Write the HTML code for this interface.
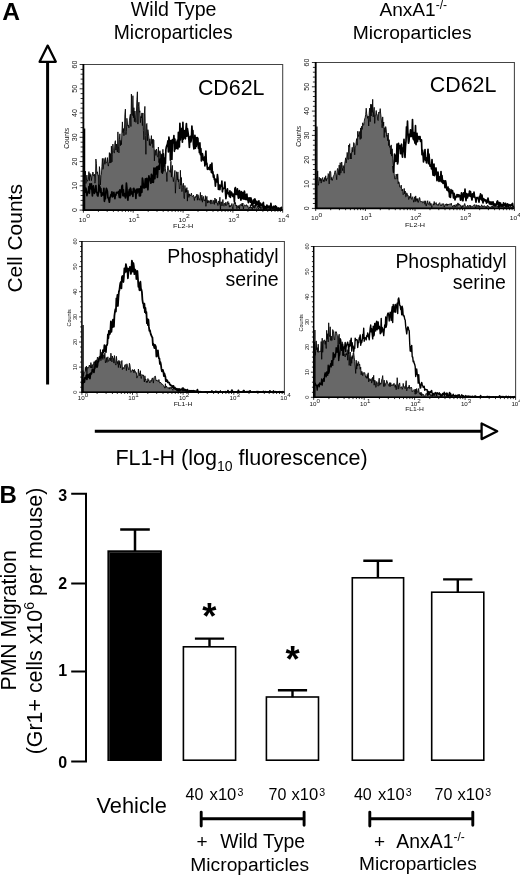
<!DOCTYPE html><html><head><meta charset="utf-8"><style>html,body{margin:0;padding:0;background:#fff;}svg{display:block;will-change:transform;}text{font-family:"Liberation Sans", sans-serif;}</style></head><body>
<svg width="520" height="876" viewBox="0 0 520 876">
<rect width="520" height="876" fill="#fff"/>
<text x="2.2" y="19.7" font-size="24.6" font-weight="bold">A</text>
<text x="130.8" y="16" font-size="19.6">Wild Type</text>
<text x="113.8" y="38.6" font-size="19.3">Microparticles</text>
<text x="379.4" y="16.2" font-size="19.1">AnxA1<tspan dy="-7" font-size="12">-/-</tspan></text>
<text x="352.8" y="38.8" font-size="19.25">Microparticles</text>
<path d="M47.6,384.6V62" stroke="#000" stroke-width="3"/>
<path d="M47.7,45.6L39.6,61.8H55.8Z" fill="#fff" stroke="#000" stroke-width="2.3" stroke-linejoin="round"/>
<text transform="translate(22.0,292.6) rotate(-90)" font-size="21">Cell Counts</text>
<path d="M94.8,431.3H481" stroke="#000" stroke-width="3"/>
<path d="M497.2,431.3L481.6,423.5V439.1Z" fill="#fff" stroke="#000" stroke-width="2.3" stroke-linejoin="round"/>
<text x="115.4" y="465.3" font-size="21.5">FL1-H (log<tspan dy="5.5" font-size="14">10</tspan><tspan dy="-5.5"> fluorescence)</tspan></text>
<path d="M83.4,64.5H282.7V210.1" fill="none" stroke="#444" stroke-width="1.05"/>
<path d="M83.9,210.1L83.9,180.7L84.4,183.3L84.9,180.4L85.4,171.1L85.9,183.5L86.4,180.8L86.9,175.1L87.4,181.3L87.9,180.0L88.4,179.5L88.9,171.6L89.4,180.7L89.9,173.3L90.4,176.4L90.9,174.5L91.4,180.6L91.9,176.4L92.4,175.1L92.9,172.0L93.4,174.8L93.9,176.1L94.4,174.2L94.9,183.2L95.4,181.2L95.9,159.0L96.4,163.6L96.9,173.5L97.4,171.8L97.9,175.3L98.4,175.1L98.9,186.4L99.4,166.6L99.9,170.8L100.4,184.9L100.9,175.5L101.4,174.8L101.9,166.6L102.4,158.4L102.9,169.3L103.4,168.0L103.9,158.4L104.4,161.1L104.9,164.3L105.4,157.6L105.9,162.5L106.4,163.1L106.9,162.0L107.4,157.6L107.9,164.6L108.4,166.1L108.9,161.4L109.4,152.6L109.9,163.1L110.4,153.5L110.9,162.9L111.4,146.1L111.9,161.9L112.4,154.2L112.9,144.1L113.4,150.3L113.9,152.2L114.4,153.1L114.9,142.6L115.4,140.7L115.9,150.1L116.4,144.0L116.9,148.7L117.4,152.1L117.9,131.9L118.4,146.1L118.9,152.9L119.4,139.3L119.9,133.8L120.4,145.7L120.9,140.4L121.4,144.7L121.9,132.9L122.4,121.9L122.9,132.6L123.4,128.5L123.9,135.7L124.4,131.8L124.9,114.2L125.4,109.1L125.9,134.6L126.4,131.7L126.9,118.3L127.4,123.1L127.9,126.1L128.4,125.2L128.9,127.9L129.4,120.9L129.9,116.3L130.4,114.2L130.9,126.5L131.4,94.1L131.9,114.2L132.4,115.5L132.9,95.7L133.4,117.7L133.9,107.7L134.4,121.7L134.9,111.0L135.4,117.9L135.9,122.4L136.4,113.0L136.9,99.4L137.4,91.8L137.9,124.1L138.4,106.3L138.9,102.2L139.4,112.3L139.9,110.8L140.4,122.7L140.9,116.5L141.4,118.0L141.9,112.9L142.4,125.6L142.9,113.0L143.4,130.4L143.9,139.7L144.4,113.3L144.9,106.4L145.4,135.7L145.9,154.3L146.4,124.3L146.9,123.5L147.4,140.7L147.9,129.7L148.4,134.0L148.9,136.6L149.4,145.3L149.9,138.8L150.4,145.7L150.9,143.3L151.4,135.6L151.9,143.6L152.4,139.3L152.9,147.6L153.4,139.4L153.9,140.3L154.4,160.9L154.9,149.8L155.4,150.5L155.9,155.4L156.4,149.0L156.9,151.1L157.4,156.9L157.9,156.8L158.4,147.0L158.9,162.6L159.4,153.1L159.9,150.7L160.4,152.8L160.9,157.4L161.4,172.5L161.9,153.8L162.4,164.0L162.9,149.3L163.4,164.5L163.9,171.2L164.4,164.2L164.9,162.2L165.4,168.5L165.9,172.2L166.4,172.5L166.9,181.5L167.4,170.6L167.9,165.8L168.4,169.1L168.9,169.8L169.4,171.3L169.9,170.7L170.4,172.4L170.9,161.2L171.4,177.1L171.9,168.7L172.4,165.4L172.9,176.8L173.4,181.6L173.9,177.3L174.4,176.1L174.9,170.4L175.4,193.2L175.9,182.4L176.4,171.7L176.9,174.5L177.4,180.1L177.9,171.9L178.4,182.0L178.9,179.4L179.4,189.0L179.9,188.3L180.4,170.3L180.9,185.1L181.4,177.5L181.9,191.6L182.4,187.7L182.9,184.8L183.4,183.2L183.9,197.3L184.4,198.7L184.9,185.5L185.4,192.5L185.9,188.6L186.4,192.1L186.9,187.6L187.4,201.1L187.9,190.3L188.4,193.7L188.9,197.4L189.4,193.8L189.9,196.0L190.4,195.0L190.9,195.4L191.4,193.1L191.9,195.8L192.4,196.7L192.9,196.4L193.4,195.1L193.9,196.8L194.4,200.5L194.9,196.9L195.4,197.6L195.9,195.9L196.4,196.5L196.9,194.1L197.4,200.2L197.9,194.7L198.4,196.2L198.9,200.0L199.4,200.2L199.9,197.6L200.4,192.4L200.9,200.7L201.4,200.3L201.9,195.0L202.4,202.2L202.9,197.6L203.4,196.4L203.9,200.5L204.4,199.8L204.9,201.1L205.4,195.7L205.9,206.3L206.4,199.1L206.9,196.4L207.4,203.1L207.9,200.3L208.4,202.5L208.9,200.7L209.4,201.6L209.9,202.7L210.4,199.9L210.9,204.1L211.4,200.9L211.9,199.9L212.4,202.6L212.9,203.7L213.4,201.9L213.9,200.2L214.4,204.4L214.9,198.0L215.4,200.0L215.9,203.0L216.4,199.3L216.9,203.1L217.4,203.0L217.9,205.5L218.4,200.9L218.9,201.7L219.4,204.3L219.9,197.2L220.4,210.1L220.9,201.9L221.4,201.9L221.9,205.9L222.4,203.8L222.9,199.5L223.4,205.6L223.9,206.2L224.4,203.1L224.9,203.6L225.4,205.5L225.9,202.2L226.4,205.5L226.9,205.0L227.4,203.0L227.9,201.4L228.4,204.2L228.9,202.8L229.4,207.2L229.9,205.3L230.4,206.8L230.9,205.4L231.4,205.7L231.9,203.5L232.4,206.7L232.9,209.2L233.4,204.7L233.9,204.1L234.4,202.3L234.9,203.8L235.4,202.4L235.9,205.9L236.4,205.0L236.9,208.7L237.4,205.7L237.9,206.5L238.4,207.8L238.9,205.3L239.4,208.9L239.9,204.7L240.4,204.4L240.9,205.4L241.4,205.9L241.9,203.4L242.4,206.2L242.9,203.0L243.4,209.0L243.9,206.2L244.4,205.2L244.9,204.8L245.4,205.8L245.9,206.2L246.4,204.7L246.9,205.0L247.4,206.4L247.9,205.8L248.4,208.5L248.9,208.9L249.4,207.0L249.9,207.8L250.4,204.7L250.9,208.2L251.4,207.0L251.9,208.0L252.4,209.9L252.9,203.3L253.4,207.6L253.9,205.4L254.4,208.3L254.9,205.1L255.4,206.5L255.9,207.7L256.4,208.4L256.9,207.5L257.4,206.2L257.9,206.6L258.4,208.9L258.9,207.5L259.4,204.9L259.9,208.1L260.4,206.7L260.9,209.0L261.4,207.2L261.9,207.4L262.4,206.1L262.9,208.6L263.4,207.1L263.9,208.9L264.4,209.4L264.9,206.8L265.4,207.9L265.9,208.0L266.4,209.7L266.9,209.0L267.4,206.3L267.9,208.7L268.4,209.2L268.9,209.7L269.4,205.8L269.9,207.5L270.4,210.1L270.9,206.4L271.4,206.7L271.9,209.0L272.4,208.2L272.9,207.5L273.4,209.1L273.9,208.6L274.4,210.1L274.9,208.5L275.4,209.8L275.9,207.5L276.4,208.4L276.9,208.5L277.4,210.0L277.9,209.4L278.4,207.8L278.9,209.5L279.4,209.7L279.9,208.7L280.4,208.6L280.9,208.7L281.4,207.0L281.9,209.1L282.2,210.1Z" fill="#686868" stroke="#000" stroke-width="0.85" stroke-linejoin="bevel"/>
<path d="M83.9,186.2L84.4,181.7L84.9,191.4L85.4,192.0L85.9,188.2L86.4,190.7L86.9,195.7L87.4,193.4L87.9,192.1L88.4,192.1L88.9,186.6L89.4,193.2L89.9,183.9L90.4,188.7L90.9,188.4L91.4,183.8L91.9,189.7L92.4,196.0L92.9,188.9L93.4,185.9L93.9,190.0L94.4,193.4L94.9,191.1L95.4,190.4L95.9,185.5L96.4,192.3L96.9,192.3L97.4,195.4L97.9,196.0L98.4,193.2L98.9,185.1L99.4,185.9L99.9,187.1L100.4,192.2L100.9,188.7L101.4,196.2L101.9,192.8L102.4,193.4L102.9,195.0L103.4,193.8L103.9,188.3L104.4,201.3L104.9,198.2L105.4,198.6L105.9,191.5L106.4,188.3L106.9,189.7L107.4,191.4L107.9,197.7L108.4,198.0L108.9,199.9L109.4,202.2L109.9,197.5L110.4,196.9L110.9,194.6L111.4,194.6L111.9,191.9L112.4,196.9L112.9,196.1L113.4,193.7L113.9,192.3L114.4,196.1L114.9,198.7L115.4,194.6L115.9,195.1L116.4,192.3L116.9,193.1L117.4,192.8L117.9,192.7L118.4,191.5L118.9,194.6L119.4,197.5L119.9,189.9L120.4,197.7L120.9,191.8L121.4,191.9L121.9,186.1L122.4,185.3L122.9,195.7L123.4,189.8L123.9,196.0L124.4,193.6L124.9,194.3L125.4,197.9L125.9,193.4L126.4,183.0L126.9,188.1L127.4,196.9L127.9,200.2L128.4,193.5L128.9,191.6L129.4,189.5L129.9,195.7L130.4,188.0L130.9,189.6L131.4,193.9L131.9,193.6L132.4,192.2L132.9,196.4L133.4,188.5L133.9,188.4L134.4,190.8L134.9,192.3L135.4,190.7L135.9,198.5L136.4,189.4L136.9,193.4L137.4,189.0L137.9,192.0L138.4,189.1L138.9,189.0L139.4,196.0L139.9,188.8L140.4,195.8L140.9,186.4L141.4,186.9L141.9,192.3L142.4,178.2L142.9,180.7L143.4,186.7L143.9,188.0L144.4,187.9L144.9,183.8L145.4,178.8L145.9,187.5L146.4,185.4L146.9,178.4L147.4,183.0L147.9,189.8L148.4,182.1L148.9,175.9L149.4,178.7L149.9,178.5L150.4,181.1L150.9,183.2L151.4,174.3L151.9,175.1L152.4,182.1L152.9,180.1L153.4,182.3L153.9,168.1L154.4,169.7L154.9,178.6L155.4,168.2L155.9,173.8L156.4,171.1L156.9,166.8L157.4,177.4L157.9,169.1L158.4,166.0L158.9,167.5L159.4,169.2L159.9,159.2L160.4,162.6L160.9,159.9L161.4,155.1L161.9,171.3L162.4,173.1L162.9,171.0L163.4,153.8L163.9,165.0L164.4,165.8L164.9,157.9L165.4,163.5L165.9,149.3L166.4,146.7L166.9,145.3L167.4,144.2L167.9,140.8L168.4,152.0L168.9,137.2L169.4,141.4L169.9,141.0L170.4,160.2L170.9,140.7L171.4,150.2L171.9,159.5L172.4,139.5L172.9,140.8L173.4,143.0L173.9,135.5L174.4,151.3L174.9,139.0L175.4,149.0L175.9,145.5L176.4,142.1L176.9,148.4L177.4,140.0L177.9,149.0L178.4,132.3L178.9,134.9L179.4,147.0L179.9,123.3L180.4,139.9L180.9,132.6L181.4,130.5L181.9,128.3L182.4,142.2L182.9,122.4L183.4,139.2L183.9,136.8L184.4,130.6L184.9,133.1L185.4,138.8L185.9,129.8L186.4,123.5L186.9,136.2L187.4,128.5L187.9,131.6L188.4,135.0L188.9,139.8L189.4,147.5L189.9,137.4L190.4,136.3L190.9,141.8L191.4,138.8L191.9,126.0L192.4,134.1L192.9,130.5L193.4,144.3L193.9,149.0L194.4,143.7L194.9,135.4L195.4,148.3L195.9,137.6L196.4,146.3L196.9,137.9L197.4,137.6L197.9,138.4L198.4,148.3L198.9,144.9L199.4,152.7L199.9,142.8L200.4,154.7L200.9,148.7L201.4,160.9L201.9,160.3L202.4,153.7L202.9,156.5L203.4,158.2L203.9,160.5L204.4,157.2L204.9,166.0L205.4,157.9L205.9,151.1L206.4,164.2L206.9,163.2L207.4,169.3L207.9,169.0L208.4,167.5L208.9,168.4L209.4,169.5L209.9,166.5L210.4,164.7L210.9,167.7L211.4,172.5L211.9,163.2L212.4,173.2L212.9,171.9L213.4,177.2L213.9,175.1L214.4,179.7L214.9,178.9L215.4,186.1L215.9,179.4L216.4,180.4L216.9,182.0L217.4,174.7L217.9,178.4L218.4,189.4L218.9,186.2L219.4,185.1L219.9,189.7L220.4,185.3L220.9,185.7L221.4,186.1L221.9,181.2L222.4,191.8L222.9,188.0L223.4,188.7L223.9,188.2L224.4,187.5L224.9,182.1L225.4,191.1L225.9,198.6L226.4,194.7L226.9,190.7L227.4,188.9L227.9,192.5L228.4,194.0L228.9,192.8L229.4,196.3L229.9,190.9L230.4,197.4L230.9,194.5L231.4,192.2L231.9,193.1L232.4,195.1L232.9,196.4L233.4,194.2L233.9,195.9L234.4,201.7L234.9,188.7L235.4,187.6L235.9,194.3L236.4,190.9L236.9,194.4L237.4,188.8L237.9,194.4L238.4,198.2L238.9,197.6L239.4,190.5L239.9,193.0L240.4,197.0L240.9,200.2L241.4,191.7L241.9,192.3L242.4,198.7L242.9,194.4L243.4,192.6L243.9,199.1L244.4,191.2L244.9,194.4L245.4,199.5L245.9,195.1L246.4,199.4L246.9,194.0L247.4,199.9L247.9,199.3L248.4,202.7L248.9,197.9L249.4,197.9L249.9,198.9L250.4,202.2L250.9,197.9L251.4,199.8L251.9,205.3L252.4,202.7L252.9,202.8L253.4,200.1L253.9,203.7L254.4,199.3L254.9,199.0L255.4,200.6L255.9,206.0L256.4,203.5L256.9,201.4L257.4,202.8L257.9,204.6L258.4,206.2L258.9,200.8L259.4,206.8L259.9,206.1L260.4,203.2L260.9,204.0L261.4,205.8L261.9,204.6L262.4,205.5L262.9,203.6L263.4,202.5L263.9,209.8L264.4,206.2L264.9,206.5L265.4,207.1L265.9,208.5L266.4,207.9L266.9,205.1L267.4,206.5L267.9,206.8L268.4,207.9L268.9,206.0L269.4,207.4L269.9,207.3L270.4,209.0L270.9,203.4L271.4,207.2L271.9,207.7L272.4,208.2L272.9,207.3L273.4,206.3L273.9,208.3L274.4,208.0L274.9,206.5L275.4,205.9L275.9,208.4L276.4,206.7L276.9,208.6L277.4,209.7L277.9,208.1L278.4,208.2L278.9,208.2L279.4,209.7L279.9,209.7L280.4,208.0L280.9,209.1L281.4,207.4L281.9,207.8" fill="none" stroke="#000" stroke-width="1.7" stroke-linejoin="round"/>
<path d="M83.4,64.0V210.1H282.7" fill="none" stroke="#000" stroke-width="1.85"/>
<path d="M84.60000000000001,128.5V210.1" stroke="#000" stroke-width="1.3"/>
<path d="M79.6,210.1H83.4M80.6,205.2H83.4M80.6,200.4H83.4M80.6,195.5H83.4M80.6,190.7H83.4M79.6,185.8H83.4M80.6,181.0H83.4M80.6,176.1H83.4M80.6,171.3H83.4M80.6,166.4H83.4M79.6,161.6H83.4M80.6,156.7H83.4M80.6,151.9H83.4M80.6,147.0H83.4M80.6,142.2H83.4M79.6,137.3H83.4M80.6,132.4H83.4M80.6,127.6H83.4M80.6,122.7H83.4M80.6,117.9H83.4M79.6,113.0H83.4M80.6,108.2H83.4M80.6,103.3H83.4M80.6,98.5H83.4M80.6,93.6H83.4M79.6,88.8H83.4M80.6,83.9H83.4M80.6,79.1H83.4M80.6,74.2H83.4M80.6,69.4H83.4M79.6,64.5H83.4M83.4,210.1v2.6M98.4,210.1v1.8M107.2,210.1v1.8M113.4,210.1v1.8M118.2,210.1v1.8M122.2,210.1v1.8M125.5,210.1v1.8M128.4,210.1v1.8M130.9,210.1v1.8M133.2,210.1v2.6M148.2,210.1v1.8M157.0,210.1v1.8M163.2,210.1v1.8M168.1,210.1v1.8M172.0,210.1v1.8M175.3,210.1v1.8M178.2,210.1v1.8M180.8,210.1v1.8M183.1,210.1v2.6M198.0,210.1v1.8M206.8,210.1v1.8M213.0,210.1v1.8M217.9,210.1v1.8M221.8,210.1v1.8M225.2,210.1v1.8M228.0,210.1v1.8M230.6,210.1v1.8M232.9,210.1v2.6M247.9,210.1v1.8M256.6,210.1v1.8M262.9,210.1v1.8M267.7,210.1v1.8M271.6,210.1v1.8M275.0,210.1v1.8M277.9,210.1v1.8M280.4,210.1v1.8M282.7,210.1v2.6" stroke="#000" stroke-width="0.8" fill="none"/>
<text transform="translate(76.7,210.1) rotate(-90)" text-anchor="middle" font-size="7.0" fill="#111">0</text>
<text transform="translate(76.7,185.8) rotate(-90)" text-anchor="middle" font-size="7.0" fill="#111">10</text>
<text transform="translate(76.7,161.6) rotate(-90)" text-anchor="middle" font-size="7.0" fill="#111">20</text>
<text transform="translate(76.7,137.3) rotate(-90)" text-anchor="middle" font-size="7.0" fill="#111">30</text>
<text transform="translate(76.7,113.0) rotate(-90)" text-anchor="middle" font-size="7.0" fill="#111">40</text>
<text transform="translate(76.7,88.8) rotate(-90)" text-anchor="middle" font-size="7.0" fill="#111">50</text>
<text transform="translate(76.7,64.5) rotate(-90)" text-anchor="middle" font-size="7.0" fill="#111">60</text>
<text transform="translate(69.1,138.3) rotate(-90)" text-anchor="middle" font-size="6.6" fill="#111">Counts</text>
<text transform="translate(84.4,221.5) scale(1.25,1)" text-anchor="middle" font-size="5.4" fill="#111">10<tspan dy="-3.2" font-size="5.4">0</tspan></text>
<text transform="translate(134.2,221.5) scale(1.25,1)" text-anchor="middle" font-size="5.4" fill="#111">10<tspan dy="-3.2" font-size="5.4">1</tspan></text>
<text transform="translate(184.1,221.5) scale(1.25,1)" text-anchor="middle" font-size="5.4" fill="#111">10<tspan dy="-3.2" font-size="5.4">2</tspan></text>
<text transform="translate(233.9,221.5) scale(1.25,1)" text-anchor="middle" font-size="5.4" fill="#111">10<tspan dy="-3.2" font-size="5.4">3</tspan></text>
<text transform="translate(283.7,221.5) scale(1.25,1)" text-anchor="middle" font-size="5.4" fill="#111">10<tspan dy="-3.2" font-size="5.4">4</tspan></text>
<text transform="translate(183.1,228.4) scale(1.3,1)" text-anchor="middle" font-size="5.6" fill="#111">FL2-H</text>
<text x="197.9" y="95" font-size="21.4">CD62L</text>
<path d="M315.7,62.5H514.4V208.4" fill="none" stroke="#444" stroke-width="1.05"/>
<path d="M316.2,208.4L316.2,179.7L316.7,177.5L317.2,178.0L317.7,170.9L318.2,185.3L318.7,183.4L319.2,177.3L319.7,178.3L320.2,180.9L320.7,178.2L321.2,183.1L321.7,179.0L322.2,178.9L322.7,177.5L323.2,181.5L323.7,179.7L324.2,181.6L324.7,177.5L325.2,179.5L325.7,175.8L326.2,181.1L326.7,178.6L327.2,178.7L327.7,178.6L328.2,173.6L328.7,174.6L329.2,183.9L329.7,171.5L330.2,171.2L330.7,171.9L331.2,179.8L331.7,177.4L332.2,180.5L332.7,178.9L333.2,176.8L333.7,175.6L334.2,174.8L334.7,172.3L335.2,170.7L335.7,172.7L336.2,174.7L336.7,179.7L337.2,170.1L337.7,168.4L338.2,169.8L338.7,174.8L339.2,165.1L339.7,175.2L340.2,162.7L340.7,173.2L341.2,172.1L341.7,162.0L342.2,167.3L342.7,170.7L343.2,165.5L343.7,168.4L344.2,173.2L344.7,163.9L345.2,160.8L345.7,157.8L346.2,162.9L346.7,158.4L347.2,152.4L347.7,157.1L348.2,159.5L348.7,145.1L349.2,147.1L349.7,143.7L350.2,159.0L350.7,153.3L351.2,159.0L351.7,151.4L352.2,147.3L352.7,152.1L353.2,148.8L353.7,142.6L354.2,143.4L354.7,154.8L355.2,147.0L355.7,146.2L356.2,141.7L356.7,138.6L357.2,145.2L357.7,131.3L358.2,134.7L358.7,136.6L359.2,131.4L359.7,134.1L360.2,139.4L360.7,127.9L361.2,138.5L361.7,126.2L362.2,129.4L362.7,122.8L363.2,125.0L363.7,125.3L364.2,121.5L364.7,118.8L365.2,117.4L365.7,114.5L366.2,108.2L366.7,113.7L367.2,116.0L367.7,118.3L368.2,116.0L368.7,126.0L369.2,112.8L369.7,108.1L370.2,121.7L370.7,104.2L371.2,116.0L371.7,104.4L372.2,112.4L372.7,99.3L373.2,116.9L373.7,111.3L374.2,107.3L374.7,123.4L375.2,115.0L375.7,114.7L376.2,110.5L376.7,114.9L377.2,114.5L377.7,120.0L378.2,120.6L378.7,112.1L379.2,112.8L379.7,112.9L380.2,108.6L380.7,114.0L381.2,117.9L381.7,123.3L382.2,127.8L382.7,116.9L383.2,125.8L383.7,122.0L384.2,137.5L384.7,127.7L385.2,132.4L385.7,126.6L386.2,129.2L386.7,136.3L387.2,135.1L387.7,140.7L388.2,133.0L388.7,145.6L389.2,139.7L389.7,147.3L390.2,146.0L390.7,154.1L391.2,144.9L391.7,156.1L392.2,148.8L392.7,158.2L393.2,164.0L393.7,167.3L394.2,174.1L394.7,178.8L395.2,179.2L395.7,177.4L396.2,174.0L396.7,176.5L397.2,179.2L397.7,173.9L398.2,183.7L398.7,181.7L399.2,182.6L399.7,187.2L400.2,187.4L400.7,187.3L401.2,185.1L401.7,189.8L402.2,191.0L402.7,189.1L403.2,194.7L403.7,193.8L404.2,188.4L404.7,193.8L405.2,191.0L405.7,196.9L406.2,196.6L406.7,192.8L407.2,193.7L407.7,196.1L408.2,195.6L408.7,199.5L409.2,198.1L409.7,196.3L410.2,198.2L410.7,193.2L411.2,198.1L411.7,199.4L412.2,197.5L412.7,196.7L413.2,199.4L413.7,202.2L414.2,199.1L414.7,196.8L415.2,201.7L415.7,195.9L416.2,200.4L416.7,198.6L417.2,201.5L417.7,198.6L418.2,202.5L418.7,201.0L419.2,197.8L419.7,197.6L420.2,200.5L420.7,201.8L421.2,201.6L421.7,201.6L422.2,201.3L422.7,202.9L423.2,202.5L423.7,202.5L424.2,200.8L424.7,204.2L425.2,204.5L425.7,200.8L426.2,206.1L426.7,204.0L427.2,202.5L427.7,200.7L428.2,204.3L428.7,204.3L429.2,203.0L429.7,201.6L430.2,205.4L430.7,203.3L431.2,203.5L431.7,207.7L432.2,206.8L432.7,205.4L433.2,203.7L433.7,205.1L434.2,201.5L434.7,204.5L435.2,203.5L435.7,202.9L436.2,202.6L436.7,205.1L437.2,204.6L437.7,204.8L438.2,205.6L438.7,203.7L439.2,203.3L439.7,202.7L440.2,204.4L440.7,205.7L441.2,204.7L441.7,205.6L442.2,203.6L442.7,204.4L443.2,204.1L443.7,203.7L444.2,207.1L444.7,206.0L445.2,204.3L445.7,204.4L446.2,205.2L446.7,203.7L447.2,205.8L447.7,204.0L448.2,205.0L448.7,204.3L449.2,204.3L449.7,204.1L450.2,203.9L450.7,204.5L451.2,203.1L451.7,205.2L452.2,205.6L452.7,207.1L453.2,206.4L453.7,205.3L454.2,206.3L454.7,204.9L455.2,207.1L455.7,206.2L456.2,204.3L456.7,206.4L457.2,206.5L457.7,203.1L458.2,203.1L458.7,205.3L459.2,203.9L459.7,204.7L460.2,204.8L460.7,206.3L461.2,206.1L461.7,208.3L462.2,205.4L462.7,206.9L463.2,205.9L463.7,206.1L464.2,204.8L464.7,203.5L465.2,205.2L465.7,206.6L466.2,207.4L466.7,206.5L467.2,206.4L467.7,205.2L468.2,206.9L468.7,207.2L469.2,205.5L469.7,206.0L470.2,205.1L470.7,207.4L471.2,206.4L471.7,206.0L472.2,206.5L472.7,206.4L473.2,205.7L473.7,205.0L474.2,205.0L474.7,204.6L475.2,206.6L475.7,208.2L476.2,204.7L476.7,206.3L477.2,206.6L477.7,205.4L478.2,206.4L478.7,205.3L479.2,207.3L479.7,205.8L480.2,206.4L480.7,206.9L481.2,206.0L481.7,204.8L482.2,205.9L482.7,207.0L483.2,206.3L483.7,206.6L484.2,205.5L484.7,206.5L485.2,207.0L485.7,206.4L486.2,208.0L486.7,206.3L487.2,205.6L487.7,205.1L488.2,206.9L488.7,206.3L489.2,207.3L489.7,206.9L490.2,207.9L490.7,207.6L491.2,206.2L491.7,206.8L492.2,207.4L492.7,205.6L493.2,207.7L493.7,207.6L494.2,205.5L494.7,206.4L495.2,206.9L495.7,205.7L496.2,206.7L496.7,206.2L497.2,206.7L497.7,206.3L498.2,206.9L498.7,207.6L499.2,205.7L499.7,207.4L500.2,205.2L500.7,205.0L501.2,206.6L501.7,206.8L502.2,207.1L502.7,205.5L503.2,206.7L503.7,206.9L504.2,207.8L504.7,206.7L505.2,207.2L505.7,206.1L506.2,206.7L506.7,204.5L507.2,207.4L507.7,206.1L508.2,206.3L508.7,207.3L509.2,208.2L509.7,207.2L510.2,207.1L510.7,205.1L511.2,207.7L511.7,207.3L512.2,208.2L512.7,206.4L513.2,206.3L513.7,206.6L513.9,208.4Z" fill="#686868" stroke="#000" stroke-width="0.85" stroke-linejoin="bevel"/>
<path d="M393.0,166.0L393.5,172.2L394.0,165.3L394.5,154.2L395.0,155.4L395.5,161.5L396.0,155.8L396.5,161.1L397.0,144.0L397.5,164.0L398.0,161.9L398.5,143.3L399.0,148.4L399.5,145.7L400.0,146.0L400.5,153.7L401.0,146.0L401.5,144.2L402.0,153.4L402.5,157.2L403.0,147.9L403.5,150.5L404.0,139.4L404.5,151.5L405.0,157.4L405.5,146.4L406.0,141.1L406.5,126.8L407.0,134.6L407.5,121.2L408.0,136.4L408.5,143.2L409.0,141.2L409.5,134.0L410.0,136.6L410.5,129.8L411.0,135.9L411.5,136.4L412.0,135.4L412.5,119.5L413.0,138.0L413.5,139.6L414.0,132.7L414.5,140.4L415.0,143.1L415.5,125.7L416.0,144.6L416.5,136.6L417.0,133.3L417.5,141.6L418.0,136.6L418.5,139.0L419.0,136.5L419.5,139.1L420.0,136.6L420.5,141.5L421.0,139.9L421.5,139.8L422.0,154.6L422.5,150.1L423.0,153.6L423.5,161.9L424.0,157.4L424.5,154.7L425.0,149.6L425.5,160.3L426.0,159.3L426.5,163.0L427.0,157.7L427.5,157.3L428.0,149.3L428.5,163.6L429.0,154.2L429.5,160.4L430.0,166.2L430.5,165.1L431.0,165.3L431.5,168.8L432.0,159.6L432.5,168.7L433.0,174.9L433.5,175.2L434.0,164.1L434.5,175.6L435.0,174.1L435.5,168.8L436.0,168.0L436.5,173.7L437.0,180.7L437.5,177.5L438.0,172.2L438.5,177.1L439.0,181.5L439.5,177.5L440.0,176.6L440.5,180.8L441.0,171.5L441.5,181.9L442.0,175.6L442.5,181.1L443.0,183.4L443.5,182.2L444.0,180.7L444.5,182.7L445.0,187.6L445.5,180.8L446.0,183.1L446.5,187.9L447.0,190.1L447.5,188.1L448.0,187.1L448.5,191.6L449.0,188.8L449.5,196.8L450.0,195.1L450.5,197.3L451.0,189.6L451.5,191.6L452.0,192.8L452.5,190.7L453.0,193.3L453.5,197.8L454.0,193.3L454.5,195.2L455.0,199.8L455.5,196.8L456.0,197.3L456.5,196.1L457.0,194.5L457.5,195.3L458.0,196.9L458.5,194.8L459.0,196.4L459.5,195.2L460.0,196.2L460.5,200.2L461.0,197.8L461.5,192.9L462.0,195.6L462.5,200.7L463.0,200.6L463.5,192.9L464.0,196.9L464.5,195.7L465.0,189.2L465.5,196.3L466.0,200.7L466.5,193.6L467.0,194.6L467.5,197.8L468.0,194.0L468.5,194.0L469.0,195.8L469.5,191.2L470.0,196.2L470.5,191.6L471.0,195.4L471.5,197.6L472.0,200.0L472.5,193.9L473.0,196.7L473.5,196.9L474.0,192.0L474.5,196.5L475.0,197.5L475.5,198.4L476.0,202.1L476.5,197.8L477.0,197.6L477.5,197.7L478.0,198.1L478.5,199.4L479.0,202.1L479.5,196.4L480.0,199.0L480.5,193.9L481.0,195.7L481.5,199.9L482.0,195.2L482.5,200.6L483.0,202.8L483.5,198.6L484.0,199.1L484.5,200.7L485.0,199.9L485.5,201.0L486.0,200.0L486.5,203.1L487.0,202.3L487.5,201.8L488.0,198.1L488.5,201.1L489.0,202.6L489.5,203.9L490.0,201.8L490.5,204.0L491.0,204.5L491.5,202.2L492.0,204.5L492.5,203.1L493.0,201.8L493.5,203.5L494.0,205.7L494.5,204.4L495.0,204.0L495.5,205.3L496.0,205.2L496.5,204.5L497.0,201.7L497.5,200.9L498.0,202.2L498.5,206.9L499.0,205.6L499.5,202.7L500.0,205.9L500.5,203.0L501.0,205.2L501.5,206.1L502.0,204.8L502.5,206.0L503.0,206.1L503.5,202.8L504.0,204.9L504.5,205.6L505.0,204.3L505.5,203.3L506.0,206.9L506.5,205.3L507.0,204.3L507.5,203.9L508.0,205.0L508.5,206.6L509.0,204.5L509.5,205.8L510.0,205.5L510.5,204.9L511.0,205.2L511.5,205.3L512.0,204.1L512.5,203.5L513.0,206.1L513.5,207.0" fill="none" stroke="#000" stroke-width="1.7" stroke-linejoin="round"/>
<path d="M315.7,62.0V208.4H514.4" fill="none" stroke="#000" stroke-width="1.85"/>
<path d="M316.9,126.5V208.4" stroke="#000" stroke-width="1.3"/>
<path d="M311.9,208.4H315.7M312.9,203.5H315.7M312.9,198.7H315.7M312.9,193.8H315.7M312.9,188.9H315.7M311.9,184.1H315.7M312.9,179.2H315.7M312.9,174.4H315.7M312.9,169.5H315.7M312.9,164.6H315.7M311.9,159.8H315.7M312.9,154.9H315.7M312.9,150.0H315.7M312.9,145.2H315.7M312.9,140.3H315.7M311.9,135.4H315.7M312.9,130.6H315.7M312.9,125.7H315.7M312.9,120.9H315.7M312.9,116.0H315.7M311.9,111.1H315.7M312.9,106.3H315.7M312.9,101.4H315.7M312.9,96.5H315.7M312.9,91.7H315.7M311.9,86.8H315.7M312.9,82.0H315.7M312.9,77.1H315.7M312.9,72.2H315.7M312.9,67.4H315.7M311.9,62.5H315.7M315.7,208.4v2.6M330.7,208.4v1.8M339.4,208.4v1.8M345.6,208.4v1.8M350.4,208.4v1.8M354.4,208.4v1.8M357.7,208.4v1.8M360.6,208.4v1.8M363.1,208.4v1.8M365.4,208.4v2.6M380.3,208.4v1.8M389.1,208.4v1.8M395.3,208.4v1.8M400.1,208.4v1.8M404.0,208.4v1.8M407.4,208.4v1.8M410.2,208.4v1.8M412.8,208.4v1.8M415.0,208.4v2.6M430.0,208.4v1.8M438.8,208.4v1.8M445.0,208.4v1.8M449.8,208.4v1.8M453.7,208.4v1.8M457.0,208.4v1.8M459.9,208.4v1.8M462.5,208.4v1.8M464.7,208.4v2.6M479.7,208.4v1.8M488.4,208.4v1.8M494.6,208.4v1.8M499.4,208.4v1.8M503.4,208.4v1.8M506.7,208.4v1.8M509.6,208.4v1.8M512.1,208.4v1.8M514.4,208.4v2.6" stroke="#000" stroke-width="0.8" fill="none"/>
<text transform="translate(309.0,208.4) rotate(-90)" text-anchor="middle" font-size="7.0" fill="#111">0</text>
<text transform="translate(309.0,184.1) rotate(-90)" text-anchor="middle" font-size="7.0" fill="#111">10</text>
<text transform="translate(309.0,159.8) rotate(-90)" text-anchor="middle" font-size="7.0" fill="#111">20</text>
<text transform="translate(309.0,135.4) rotate(-90)" text-anchor="middle" font-size="7.0" fill="#111">30</text>
<text transform="translate(309.0,111.1) rotate(-90)" text-anchor="middle" font-size="7.0" fill="#111">40</text>
<text transform="translate(309.0,86.8) rotate(-90)" text-anchor="middle" font-size="7.0" fill="#111">50</text>
<text transform="translate(309.0,62.5) rotate(-90)" text-anchor="middle" font-size="7.0" fill="#111">60</text>
<text transform="translate(301.4,136.4) rotate(-90)" text-anchor="middle" font-size="6.6" fill="#111">Counts</text>
<text transform="translate(316.7,219.8) scale(1.25,1)" text-anchor="middle" font-size="5.4" fill="#111">10<tspan dy="-3.2" font-size="5.4">0</tspan></text>
<text transform="translate(366.4,219.8) scale(1.25,1)" text-anchor="middle" font-size="5.4" fill="#111">10<tspan dy="-3.2" font-size="5.4">1</tspan></text>
<text transform="translate(416.0,219.8) scale(1.25,1)" text-anchor="middle" font-size="5.4" fill="#111">10<tspan dy="-3.2" font-size="5.4">2</tspan></text>
<text transform="translate(465.7,219.8) scale(1.25,1)" text-anchor="middle" font-size="5.4" fill="#111">10<tspan dy="-3.2" font-size="5.4">3</tspan></text>
<text transform="translate(515.4,219.8) scale(1.25,1)" text-anchor="middle" font-size="5.4" fill="#111">10<tspan dy="-3.2" font-size="5.4">4</tspan></text>
<text transform="translate(415.0,226.7) scale(1.3,1)" text-anchor="middle" font-size="5.6" fill="#111">FL2-H</text>
<text x="429.8" y="91.7" font-size="21.4">CD62L</text>
<path d="M81.9,241.5H284.4V392.2" fill="none" stroke="#444" stroke-width="1.05"/>
<path d="M82.4,392.2L82.4,380.5L82.9,370.5L83.4,375.8L83.9,372.9L84.4,372.4L84.9,372.2L85.4,367.3L85.9,370.6L86.4,366.0L86.9,377.9L87.4,367.3L87.9,368.3L88.4,367.9L88.9,366.5L89.4,365.0L89.9,366.1L90.4,367.8L90.9,362.6L91.4,368.1L91.9,364.6L92.4,364.7L92.9,368.2L93.4,365.1L93.9,361.7L94.4,362.1L94.9,363.6L95.4,367.0L95.9,360.3L96.4,359.9L96.9,362.9L97.4,357.1L97.9,358.3L98.4,361.4L98.9,358.4L99.4,358.6L99.9,357.6L100.4,349.5L100.9,360.6L101.4,354.5L101.9,352.1L102.4,358.0L102.9,359.5L103.4,356.4L103.9,354.8L104.4,358.3L104.9,352.9L105.4,362.8L105.9,361.1L106.4,357.5L106.9,362.4L107.4,358.8L107.9,356.8L108.4,361.3L108.9,361.1L109.4,359.2L109.9,357.8L110.4,360.7L110.9,353.2L111.4,357.4L111.9,361.9L112.4,356.0L112.9,358.4L113.4,358.2L113.9,363.1L114.4,355.5L114.9,358.9L115.4,363.7L115.9,365.1L116.4,356.3L116.9,361.1L117.4,363.6L117.9,361.3L118.4,367.5L118.9,360.3L119.4,364.6L119.9,361.2L120.4,367.9L120.9,364.4L121.4,363.7L121.9,360.5L122.4,369.6L122.9,367.4L123.4,367.6L123.9,368.9L124.4,367.1L124.9,364.8L125.4,364.7L125.9,364.9L126.4,370.6L126.9,363.8L127.4,366.2L127.9,367.2L128.4,368.8L128.9,369.9L129.4,363.3L129.9,364.8L130.4,369.2L130.9,372.3L131.4,371.5L131.9,370.5L132.4,369.5L132.9,371.1L133.4,370.1L133.9,372.8L134.4,369.4L134.9,371.8L135.4,371.4L135.9,373.2L136.4,372.7L136.9,378.1L137.4,376.0L137.9,376.2L138.4,369.0L138.9,373.2L139.4,373.1L139.9,376.0L140.4,370.7L140.9,378.3L141.4,378.5L141.9,374.4L142.4,375.3L142.9,375.9L143.4,374.9L143.9,379.2L144.4,382.0L144.9,375.8L145.4,380.1L145.9,379.2L146.4,382.5L146.9,381.0L147.4,382.4L147.9,378.5L148.4,380.5L148.9,379.8L149.4,382.0L149.9,383.0L150.4,381.1L150.9,380.3L151.4,381.4L151.9,378.9L152.4,377.9L152.9,380.0L153.4,383.1L153.9,377.6L154.4,377.2L154.9,376.3L155.4,376.2L155.9,379.9L156.4,380.9L156.9,379.9L157.4,381.0L157.9,381.1L158.4,381.6L158.9,379.5L159.4,381.7L159.9,383.1L160.4,382.2L160.9,383.2L161.4,383.3L161.9,384.4L162.4,383.9L162.9,384.8L163.4,385.3L163.9,386.7L164.4,386.7L164.9,388.2L165.4,383.7L165.9,387.5L166.4,386.0L166.9,386.9L167.4,387.8L167.9,388.2L168.4,388.3L168.9,387.4L169.4,389.1L169.9,387.2L170.4,387.4L170.9,388.6L171.4,387.3L171.9,388.9L172.4,389.1L172.9,390.4L173.4,388.3L173.9,388.1L174.4,388.8L174.9,389.4L175.4,388.3L175.9,389.3L176.4,389.1L176.9,390.6L177.4,388.8L177.9,390.3L178.4,389.0L178.9,388.8L179.4,389.1L179.9,388.8L180.4,389.9L180.9,389.3L181.4,390.0L181.9,390.0L182.4,391.2L182.9,390.3L183.4,387.6L183.9,390.0L184.4,389.2L184.9,390.9L185.4,389.3L185.9,390.9L186.4,390.5L186.9,391.3L187.4,389.0L187.9,390.2L188.4,391.0L188.9,390.5L189.4,390.8L189.9,390.9L190.4,391.0L190.9,391.0L191.4,390.7L191.9,391.1L192.4,390.2L192.9,391.2L193.4,390.8L193.9,391.9L194.4,392.0L194.9,390.7L195.4,391.6L195.9,391.5L196.4,391.2L196.9,391.0L197.4,391.6L197.9,391.2L198.4,391.8L198.9,391.8L199.4,392.0L199.9,391.7L200.4,392.1L200.9,392.2L201.4,391.7L201.9,391.9L202.4,392.0L202.9,391.9L203.4,392.2L203.9,392.0L204.4,391.8L204.9,391.8L205.4,392.0L205.9,392.2L206.4,392.0L206.9,392.0L207.4,392.1L207.9,392.0L208.4,392.2L208.9,391.9L209.4,391.8L209.9,392.0L210.4,392.1L210.9,391.7L211.4,392.2L211.9,390.1L212.4,392.0L212.9,391.8L213.4,391.8L213.9,392.1L214.4,392.2L214.9,392.2L215.4,392.2L215.9,390.5L216.4,392.0L216.9,392.2L217.4,391.5L217.9,392.0L218.4,392.2L218.9,392.2L219.4,392.1L219.9,391.9L220.4,390.3L220.9,392.2L221.4,392.0L221.9,392.0L222.4,392.0L222.9,392.2L223.4,391.6L223.9,392.1L224.4,392.2L224.9,391.8L225.4,390.9L225.9,392.1L226.4,391.9L226.9,392.0L227.4,391.7L227.9,391.9L228.4,392.2L228.9,391.8L229.4,392.2L229.9,392.0L230.4,392.2L230.9,392.0L231.4,391.5L231.9,390.8L232.4,392.0L232.9,391.7L233.4,391.7L233.9,392.1L234.4,391.9L234.9,391.6L235.4,391.8L235.9,392.2L236.4,391.9L236.9,392.2L237.4,392.2L237.9,391.4L238.4,391.7L238.9,391.7L239.4,392.0L239.9,392.2L240.4,392.1L240.9,392.1L241.4,391.9L241.9,392.1L242.4,391.5L242.9,391.9L243.4,391.7L243.9,390.0L244.4,390.2L244.9,391.8L245.4,391.8L245.9,392.2L246.4,392.0L246.9,392.2L247.4,392.2L247.9,391.9L248.4,392.2L248.9,392.1L249.4,391.8L249.9,391.1L250.4,390.3L250.9,391.3L251.4,392.2L251.9,391.9L252.4,392.2L252.9,391.9L253.4,391.7L253.9,392.2L254.4,391.8L254.9,392.0L255.4,392.2L255.9,392.0L256.4,392.0L256.9,392.0L257.4,392.2L257.9,391.8L258.4,392.1L258.9,392.1L259.4,392.2L259.9,391.7L260.4,391.8L260.9,392.2L261.4,391.9L261.9,392.1L262.4,392.0L262.9,392.2L263.4,391.9L263.9,392.0L264.4,391.4L264.9,391.8L265.4,392.2L265.9,391.8L266.4,391.8L266.9,391.7L267.4,392.1L267.9,392.0L268.4,391.7L268.9,392.1L269.4,392.1L269.9,392.2L270.4,391.9L270.9,392.2L271.4,392.1L271.9,392.0L272.4,391.9L272.9,391.9L273.4,390.2L273.9,391.9L274.4,392.2L274.9,392.1L275.4,392.2L275.9,392.2L276.4,392.0L276.9,391.6L277.4,392.1L277.9,392.2L278.4,391.8L278.9,392.1L279.4,391.9L279.9,391.9L280.4,391.8L280.9,392.2L281.4,392.0L281.9,391.9L282.4,391.7L282.9,392.0L283.4,392.2L283.9,392.1L283.9,392.2Z" fill="#686868" stroke="#000" stroke-width="0.85" stroke-linejoin="bevel"/>
<path d="M82.4,384.0L82.9,380.4L83.4,382.5L83.9,379.4L84.4,382.1L84.9,377.8L85.4,378.5L85.9,378.2L86.4,375.3L86.9,379.4L87.4,375.1L87.9,375.0L88.4,375.7L88.9,377.4L89.4,374.2L89.9,378.6L90.4,374.4L90.9,373.1L91.4,373.7L91.9,371.9L92.4,369.4L92.9,369.6L93.4,370.2L93.9,372.3L94.4,368.7L94.9,368.2L95.4,361.4L95.9,364.6L96.4,364.1L96.9,367.2L97.4,365.9L97.9,361.5L98.4,361.7L98.9,359.5L99.4,357.1L99.9,358.2L100.4,356.5L100.9,357.5L101.4,357.6L101.9,354.6L102.4,357.1L102.9,350.2L103.4,352.2L103.9,351.7L104.4,345.2L104.9,350.9L105.4,350.2L105.9,352.1L106.4,345.3L106.9,345.2L107.4,343.4L107.9,334.4L108.4,338.3L108.9,330.8L109.4,334.3L109.9,333.8L110.4,330.7L110.9,321.4L111.4,331.8L111.9,326.4L112.4,327.3L112.9,319.9L113.4,319.4L113.9,326.8L114.4,315.9L114.9,312.0L115.4,309.2L115.9,311.5L116.4,298.4L116.9,300.3L117.4,295.0L117.9,306.0L118.4,297.8L118.9,291.6L119.4,290.1L119.9,286.0L120.4,282.9L120.9,282.0L121.4,288.4L121.9,277.1L122.4,276.0L122.9,277.6L123.4,282.0L123.9,276.4L124.4,268.3L124.9,272.5L125.4,271.3L125.9,264.1L126.4,266.7L126.9,271.9L127.4,268.4L127.9,278.3L128.4,272.3L128.9,268.6L129.4,270.5L129.9,266.8L130.4,267.7L130.9,274.0L131.4,269.7L131.9,260.7L132.4,263.0L132.9,271.6L133.4,263.2L133.9,266.7L134.4,274.2L134.9,269.3L135.4,270.3L135.9,271.0L136.4,279.0L136.9,272.2L137.4,271.0L137.9,278.2L138.4,286.8L138.9,282.9L139.4,289.9L139.9,290.2L140.4,281.7L140.9,288.6L141.4,289.7L141.9,291.9L142.4,299.6L142.9,303.2L143.4,303.3L143.9,308.0L144.4,303.7L144.9,312.1L145.4,307.8L145.9,313.4L146.4,312.2L146.9,323.1L147.4,319.0L147.9,325.1L148.4,319.7L148.9,326.9L149.4,330.8L149.9,330.2L150.4,332.5L150.9,334.4L151.4,335.7L151.9,336.8L152.4,337.3L152.9,345.0L153.4,343.9L153.9,346.1L154.4,348.1L154.9,344.8L155.4,345.7L155.9,346.9L156.4,356.5L156.9,352.1L157.4,355.8L157.9,350.3L158.4,355.6L158.9,358.4L159.4,358.4L159.9,364.0L160.4,362.2L160.9,364.5L161.4,368.7L161.9,371.3L162.4,370.1L162.9,370.0L163.4,371.9L163.9,376.1L164.4,373.5L164.9,375.2L165.4,376.8L165.9,381.4L166.4,381.2L166.9,380.0L167.4,380.8L167.9,382.4L168.4,382.4L168.9,382.4L169.4,383.3L169.9,384.7L170.4,384.7L170.9,385.7L171.4,385.7L171.9,385.7L172.4,387.3L172.9,387.6L173.4,385.8L173.9,388.2L174.4,387.8L174.9,387.5L175.4,389.1L175.9,388.9L176.4,389.3L176.9,388.7L177.4,390.6L177.9,389.8L178.4,389.1L178.9,390.9L179.4,389.1L179.9,390.7L180.4,389.6L180.9,389.5L181.4,389.5L181.9,389.3L182.4,388.3L182.9,390.3L183.4,390.1L183.9,389.3L184.4,390.4L184.9,389.5L185.4,390.7L185.9,390.2L186.4,390.4L186.9,391.2L187.4,389.6L187.9,391.9L188.4,392.2L188.9,391.4L189.4,391.2L189.9,390.7L190.4,391.5L190.9,391.0L191.4,391.0L191.9,390.8L192.4,391.8L192.9,391.6L193.4,390.8L193.9,391.4L194.4,391.0L194.9,391.8L195.4,391.2L195.9,391.6L196.4,391.8L196.9,391.6L197.4,389.6L197.9,391.7L198.4,391.5L198.9,392.2L199.4,392.1L199.9,391.6L200.4,391.8L200.9,392.2L201.4,392.1L201.9,391.9L202.4,392.2L202.9,392.1L203.4,392.2L203.9,391.9L204.4,392.2L204.9,392.0L205.4,391.8L205.9,392.0L206.4,391.9L206.9,392.1L207.4,392.1L207.9,392.0L208.4,391.8L208.9,392.0L209.4,391.9L209.9,392.2L210.4,391.8L210.9,391.9L211.4,391.9L211.9,391.8L212.4,392.1L212.9,392.1L213.4,392.0L213.9,392.2L214.4,391.9L214.9,392.1L215.4,392.0L215.9,392.1L216.4,391.8L216.9,391.8L217.4,392.2L217.9,391.8L218.4,392.2L218.9,392.2L219.4,391.9L219.9,392.1L220.4,392.0L220.9,392.2L221.4,392.2L221.9,392.2L222.4,392.2L222.9,392.2L223.4,391.8L223.9,392.0L224.4,392.2L224.9,391.9L225.4,392.2L225.9,391.8L226.4,392.0L226.9,392.0L227.4,392.1L227.9,390.7L228.4,391.9L228.9,392.1L229.4,392.0L229.9,392.1L230.4,391.8L230.9,391.8L231.4,391.4L231.9,390.1L232.4,391.9L232.9,391.7L233.4,391.9L233.9,392.1L234.4,391.9L234.9,392.1L235.4,392.1L235.9,392.0L236.4,392.1L236.9,392.1L237.4,391.7L237.9,392.2L238.4,390.3L238.9,392.0L239.4,391.9L239.9,391.9L240.4,392.0L240.9,391.9L241.4,391.9L241.9,392.0L242.4,391.8L242.9,392.0L243.4,390.7L243.9,392.1L244.4,391.8L244.9,392.0L245.4,391.9L245.9,392.2L246.4,391.8L246.9,392.2L247.4,391.9L247.9,391.7L248.4,392.2L248.9,392.2L249.4,391.1L249.9,391.9L250.4,392.2L250.9,392.2L251.4,392.1L251.9,392.2L252.4,392.0L252.9,392.2L253.4,391.9L253.9,391.9L254.4,392.0L254.9,392.0L255.4,392.1L255.9,392.2L256.4,391.7L256.9,392.1L257.4,391.9L257.9,391.7L258.4,391.9L258.9,392.2L259.4,392.1L259.9,391.8L260.4,391.9L260.9,391.9L261.4,392.2L261.9,392.0L262.4,391.9L262.9,391.9L263.4,391.5L263.9,392.0L264.4,392.2L264.9,392.1L265.4,391.7L265.9,392.2L266.4,392.1L266.9,392.0L267.4,392.0L267.9,392.2L268.4,392.0L268.9,392.0L269.4,392.1L269.9,390.9L270.4,392.1L270.9,391.8L271.4,392.1L271.9,392.2L272.4,392.1L272.9,392.2L273.4,391.9L273.9,391.9L274.4,392.2L274.9,391.6L275.4,391.8L275.9,391.9L276.4,391.9L276.9,392.1L277.4,392.1L277.9,392.2L278.4,391.8L278.9,392.0L279.4,392.0L279.9,391.6L280.4,392.0L280.9,392.1L281.4,391.8L281.9,391.8L282.4,392.2L282.9,391.7L283.4,392.2L283.9,392.1" fill="none" stroke="#000" stroke-width="1.8" stroke-linejoin="round"/>
<path d="M81.9,241.0V392.2H284.4" fill="none" stroke="#000" stroke-width="1.5"/>
<path d="M83.10000000000001,325V392.2" stroke="#000" stroke-width="1.3"/>
<path d="M79.1,392.2H81.9M80.1,387.2H81.9M80.1,382.2H81.9M80.1,377.1H81.9M80.1,372.1H81.9M79.1,367.1H81.9M80.1,362.1H81.9M80.1,357.0H81.9M80.1,352.0H81.9M80.1,347.0H81.9M79.1,342.0H81.9M80.1,336.9H81.9M80.1,331.9H81.9M80.1,326.9H81.9M80.1,321.9H81.9M79.1,316.9H81.9M80.1,311.8H81.9M80.1,306.8H81.9M80.1,301.8H81.9M80.1,296.8H81.9M79.1,291.7H81.9M80.1,286.7H81.9M80.1,281.7H81.9M80.1,276.7H81.9M80.1,271.6H81.9M79.1,266.6H81.9M80.1,261.6H81.9M80.1,256.6H81.9M80.1,251.5H81.9M80.1,246.5H81.9M79.1,241.5H81.9M81.9,392.2v2.6M97.1,392.2v1.8M106.1,392.2v1.8M112.4,392.2v1.8M117.3,392.2v1.8M121.3,392.2v1.8M124.7,392.2v1.8M127.6,392.2v1.8M130.2,392.2v1.8M132.5,392.2v2.6M147.8,392.2v1.8M156.7,392.2v1.8M163.0,392.2v1.8M167.9,392.2v1.8M171.9,392.2v1.8M175.3,392.2v1.8M178.2,392.2v1.8M180.8,392.2v1.8M183.1,392.2v2.6M198.4,392.2v1.8M207.3,392.2v1.8M213.6,392.2v1.8M218.5,392.2v1.8M222.5,392.2v1.8M225.9,392.2v1.8M228.9,392.2v1.8M231.5,392.2v1.8M233.8,392.2v2.6M249.0,392.2v1.8M257.9,392.2v1.8M264.3,392.2v1.8M269.2,392.2v1.8M273.2,392.2v1.8M276.6,392.2v1.8M279.5,392.2v1.8M282.1,392.2v1.8M284.4,392.2v2.6" stroke="#000" stroke-width="0.8" fill="none"/>
<text transform="translate(76.9,392.2) rotate(-90)" text-anchor="middle" font-size="5.6" fill="#111">0</text>
<text transform="translate(76.9,367.1) rotate(-90)" text-anchor="middle" font-size="5.6" fill="#111">10</text>
<text transform="translate(76.9,342.0) rotate(-90)" text-anchor="middle" font-size="5.6" fill="#111">20</text>
<text transform="translate(76.9,316.9) rotate(-90)" text-anchor="middle" font-size="5.6" fill="#111">30</text>
<text transform="translate(76.9,291.7) rotate(-90)" text-anchor="middle" font-size="5.6" fill="#111">40</text>
<text transform="translate(76.9,266.6) rotate(-90)" text-anchor="middle" font-size="5.6" fill="#111">50</text>
<text transform="translate(76.9,241.5) rotate(-90)" text-anchor="middle" font-size="5.6" fill="#111">60</text>
<text transform="translate(71.2,317.9) rotate(-90)" text-anchor="middle" font-size="5.4" fill="#111">Counts</text>
<text transform="translate(82.9,400.4) scale(1.25,1)" text-anchor="middle" font-size="5.0" fill="#111">10<tspan dy="-3.0" font-size="5.0">0</tspan></text>
<text transform="translate(133.5,400.4) scale(1.25,1)" text-anchor="middle" font-size="5.0" fill="#111">10<tspan dy="-3.0" font-size="5.0">1</tspan></text>
<text transform="translate(184.1,400.4) scale(1.25,1)" text-anchor="middle" font-size="5.0" fill="#111">10<tspan dy="-3.0" font-size="5.0">2</tspan></text>
<text transform="translate(234.8,400.4) scale(1.25,1)" text-anchor="middle" font-size="5.0" fill="#111">10<tspan dy="-3.0" font-size="5.0">3</tspan></text>
<text transform="translate(285.4,400.4) scale(1.25,1)" text-anchor="middle" font-size="5.0" fill="#111">10<tspan dy="-3.0" font-size="5.0">4</tspan></text>
<text transform="translate(183.1,405.8) scale(1.3,1)" text-anchor="middle" font-size="5.2" fill="#111">FL1-H</text>
<text x="278.6" y="263" font-size="19.45" text-anchor="end">Phosphatidyl</text>
<text x="278.6" y="285.8" font-size="19.5" text-anchor="end">serine</text>
<path d="M313.7,246.5H515.6V397.3" fill="none" stroke="#444" stroke-width="1.05"/>
<path d="M314.2,397.3L314.2,342.1L314.7,342.1L315.2,355.4L315.7,351.2L316.2,340.9L316.7,349.7L317.2,347.6L317.7,352.2L318.2,344.2L318.7,352.4L319.2,351.9L319.7,351.2L320.2,351.3L320.7,351.8L321.2,341.5L321.7,359.3L322.2,338.2L322.7,352.3L323.2,344.2L323.7,340.6L324.2,340.8L324.7,339.8L325.2,344.4L325.7,340.9L326.2,348.5L326.7,330.3L327.2,339.2L327.7,333.7L328.2,341.9L328.7,322.8L329.2,334.3L329.7,336.6L330.2,326.8L330.7,340.4L331.2,336.0L331.7,340.6L332.2,340.3L332.7,329.6L333.2,330.6L333.7,333.9L334.2,339.2L334.7,340.0L335.2,331.7L335.7,332.5L336.2,331.7L336.7,333.2L337.2,335.3L337.7,336.1L338.2,348.7L338.7,336.2L339.2,334.2L339.7,344.1L340.2,338.1L340.7,342.5L341.2,345.9L341.7,351.0L342.2,341.8L342.7,355.6L343.2,347.8L343.7,350.9L344.2,354.8L344.7,354.5L345.2,357.0L345.7,353.4L346.2,353.1L346.7,355.2L347.2,349.6L347.7,360.2L348.2,351.7L348.7,350.0L349.2,365.4L349.7,356.1L350.2,352.0L350.7,365.9L351.2,356.8L351.7,363.3L352.2,355.6L352.7,358.6L353.2,353.0L353.7,352.6L354.2,357.2L354.7,361.7L355.2,366.1L355.7,373.4L356.2,360.2L356.7,369.1L357.2,363.4L357.7,366.0L358.2,361.5L358.7,362.1L359.2,365.3L359.7,364.2L360.2,369.2L360.7,367.1L361.2,374.8L361.7,371.3L362.2,371.8L362.7,375.7L363.2,373.0L363.7,372.6L364.2,372.9L364.7,372.5L365.2,374.9L365.7,377.3L366.2,376.4L366.7,378.3L367.2,374.4L367.7,378.3L368.2,372.8L368.7,381.9L369.2,378.5L369.7,379.3L370.2,380.9L370.7,379.2L371.2,378.6L371.7,383.1L372.2,380.1L372.7,377.2L373.2,381.3L373.7,375.3L374.2,385.2L374.7,380.1L375.2,380.9L375.7,387.3L376.2,387.1L376.7,381.5L377.2,383.0L377.7,384.5L378.2,386.2L378.7,381.3L379.2,378.2L379.7,385.3L380.2,382.8L380.7,384.2L381.2,384.0L381.7,379.4L382.2,378.5L382.7,375.6L383.2,382.1L383.7,386.5L384.2,380.1L384.7,386.4L385.2,385.9L385.7,383.3L386.2,383.5L386.7,380.4L387.2,381.6L387.7,383.2L388.2,383.9L388.7,385.7L389.2,386.3L389.7,382.6L390.2,386.6L390.7,382.7L391.2,384.4L391.7,385.8L392.2,384.9L392.7,384.7L393.2,385.7L393.7,383.6L394.2,383.4L394.7,384.5L395.2,387.4L395.7,384.8L396.2,389.7L396.7,385.5L397.2,377.7L397.7,383.9L398.2,389.1L398.7,385.0L399.2,383.9L399.7,382.9L400.2,388.3L400.7,387.7L401.2,387.1L401.7,386.7L402.2,389.3L402.7,388.0L403.2,383.4L403.7,386.8L404.2,387.1L404.7,386.6L405.2,388.8L405.7,384.4L406.2,380.7L406.7,390.8L407.2,389.7L407.7,387.3L408.2,386.8L408.7,388.2L409.2,385.1L409.7,388.6L410.2,387.7L410.7,387.8L411.2,387.0L411.7,387.8L412.2,391.7L412.7,390.8L413.2,391.2L413.7,390.5L414.2,389.4L414.7,392.5L415.2,394.3L415.7,389.0L416.2,393.8L416.7,388.5L417.2,391.6L417.7,392.4L418.2,390.4L418.7,388.5L419.2,393.0L419.7,394.2L420.2,392.4L420.7,395.1L421.2,392.3L421.7,395.9L422.2,393.8L422.7,394.1L423.2,394.7L423.7,394.5L424.2,396.5L424.7,397.0L425.2,395.2L425.7,394.4L426.2,393.3L426.7,393.8L427.2,394.7L427.7,394.1L428.2,394.8L428.7,394.9L429.2,393.7L429.7,393.5L430.2,393.9L430.7,396.2L431.2,396.0L431.7,394.6L432.2,396.5L432.7,394.6L433.2,395.1L433.7,393.6L434.2,396.2L434.7,395.5L435.2,396.5L435.7,396.2L436.2,394.6L436.7,395.8L437.2,396.8L437.7,395.6L438.2,395.7L438.7,395.9L439.2,396.6L439.7,396.7L440.2,397.3L440.7,396.0L441.2,397.1L441.7,395.6L442.2,395.5L442.7,396.3L443.2,397.3L443.7,396.7L444.2,395.9L444.7,396.7L445.2,396.5L445.7,396.1L446.2,396.1L446.7,395.7L447.2,397.3L447.7,396.5L448.2,397.1L448.7,395.7L449.2,395.8L449.7,395.3L450.2,396.2L450.7,397.1L451.2,395.1L451.7,396.9L452.2,397.3L452.7,395.6L453.2,395.5L453.7,396.2L454.2,396.9L454.7,397.0L455.2,397.3L455.7,396.5L456.2,396.9L456.7,397.3L457.2,396.3L457.7,396.9L458.2,395.5L458.7,396.7L459.2,397.3L459.7,397.3L460.2,397.3L460.7,396.9L461.2,397.3L461.7,397.0L462.2,396.9L462.7,397.1L463.2,396.1L463.7,397.0L464.2,396.7L464.7,396.6L465.2,396.8L465.7,397.3L466.2,397.3L466.7,396.9L467.2,397.2L467.7,397.0L468.2,395.7L468.7,397.1L469.2,397.0L469.7,396.4L470.2,397.3L470.7,396.4L471.2,397.1L471.7,396.6L472.2,396.7L472.7,396.7L473.2,397.3L473.7,396.5L474.2,396.9L474.7,397.3L475.2,396.7L475.7,397.0L476.2,397.3L476.7,396.8L477.2,397.2L477.7,396.8L478.2,397.3L478.7,397.0L479.2,396.6L479.7,397.3L480.2,397.0L480.7,396.9L481.2,396.7L481.7,396.8L482.2,397.0L482.7,397.1L483.2,397.3L483.7,396.5L484.2,396.4L484.7,397.3L485.2,397.1L485.7,397.2L486.2,397.3L486.7,396.6L487.2,397.2L487.7,397.0L488.2,397.3L488.7,397.3L489.2,396.7L489.7,397.2L490.2,396.6L490.7,397.3L491.2,397.3L491.7,396.9L492.2,396.8L492.7,396.3L493.2,397.3L493.7,397.0L494.2,396.9L494.7,397.3L495.2,396.7L495.7,396.8L496.2,396.7L496.7,396.5L497.2,397.3L497.7,396.9L498.2,396.9L498.7,397.3L499.2,395.8L499.7,397.0L500.2,396.6L500.7,396.6L501.2,397.2L501.7,396.2L502.2,397.0L502.7,397.3L503.2,396.1L503.7,396.4L504.2,396.9L504.7,397.0L505.2,396.7L505.7,397.1L506.2,395.7L506.7,396.4L507.2,396.9L507.7,396.5L508.2,396.1L508.7,396.0L509.2,397.3L509.7,396.9L510.2,397.3L510.7,396.4L511.2,396.8L511.7,397.0L512.2,396.9L512.7,397.1L513.2,397.0L513.7,396.7L514.2,396.0L514.7,396.6L515.1,397.3Z" fill="#686868" stroke="#000" stroke-width="0.85" stroke-linejoin="bevel"/>
<path d="M314.2,385.3L314.7,385.6L315.2,383.3L315.7,384.8L316.2,385.1L316.7,385.5L317.2,390.1L317.7,385.3L318.2,385.2L318.7,384.2L319.2,386.7L319.7,383.0L320.2,383.1L320.7,384.6L321.2,383.8L321.7,379.0L322.2,385.1L322.7,380.3L323.2,381.1L323.7,378.5L324.2,381.3L324.7,374.6L325.2,372.8L325.7,374.8L326.2,376.8L326.7,371.9L327.2,374.0L327.7,375.3L328.2,365.3L328.7,373.4L329.2,371.9L329.7,365.9L330.2,366.4L330.7,363.7L331.2,366.9L331.7,360.6L332.2,363.9L332.7,365.4L333.2,352.6L333.7,359.5L334.2,356.5L334.7,354.1L335.2,357.0L335.7,354.0L336.2,347.6L336.7,350.6L337.2,352.2L337.7,348.5L338.2,345.4L338.7,360.5L339.2,355.9L339.7,354.8L340.2,349.3L340.7,339.6L341.2,346.6L341.7,349.6L342.2,345.0L342.7,344.2L343.2,347.9L343.7,355.4L344.2,347.3L344.7,346.3L345.2,342.4L345.7,352.0L346.2,346.7L346.7,344.9L347.2,343.5L347.7,342.1L348.2,345.5L348.7,353.4L349.2,344.4L349.7,346.3L350.2,340.5L350.7,345.5L351.2,338.1L351.7,351.1L352.2,342.7L352.7,347.5L353.2,346.1L353.7,352.0L354.2,348.4L354.7,348.4L355.2,338.3L355.7,340.2L356.2,339.8L356.7,339.8L357.2,340.0L357.7,347.5L358.2,342.8L358.7,342.6L359.2,337.9L359.7,337.3L360.2,334.9L360.7,345.3L361.2,340.4L361.7,342.7L362.2,340.1L362.7,334.5L363.2,338.2L363.7,328.3L364.2,341.2L364.7,337.8L365.2,338.5L365.7,337.7L366.2,339.8L366.7,335.6L367.2,336.6L367.7,332.9L368.2,334.7L368.7,337.2L369.2,339.7L369.7,333.4L370.2,328.0L370.7,325.0L371.2,331.9L371.7,328.8L372.2,334.5L372.7,338.9L373.2,326.3L373.7,336.0L374.2,334.9L374.7,323.5L375.2,325.6L375.7,331.0L376.2,322.7L376.7,321.2L377.2,329.8L377.7,322.3L378.2,321.9L378.7,328.8L379.2,326.3L379.7,327.3L380.2,333.8L380.7,333.4L381.2,318.4L381.7,332.1L382.2,327.4L382.7,328.7L383.2,330.9L383.7,335.6L384.2,330.1L384.7,325.0L385.2,327.5L385.7,317.0L386.2,327.0L386.7,324.3L387.2,315.9L387.7,313.7L388.2,313.0L388.7,314.6L389.2,321.0L389.7,316.0L390.2,312.2L390.7,313.3L391.2,320.5L391.7,310.8L392.2,306.8L392.7,322.5L393.2,304.4L393.7,310.7L394.2,312.1L394.7,307.2L395.2,304.4L395.7,312.3L396.2,305.1L396.7,307.4L397.2,303.2L397.7,313.5L398.2,299.3L398.7,297.9L399.2,300.6L399.7,305.3L400.2,305.6L400.7,309.5L401.2,306.9L401.7,314.8L402.2,306.3L402.7,308.9L403.2,315.8L403.7,315.2L404.2,316.3L404.7,319.2L405.2,320.0L405.7,326.4L406.2,329.9L406.7,333.9L407.2,329.8L407.7,327.0L408.2,327.1L408.7,330.0L409.2,330.6L409.7,343.2L410.2,351.0L410.7,346.6L411.2,351.5L411.7,345.4L412.2,356.8L412.7,356.9L413.2,361.7L413.7,361.0L414.2,363.3L414.7,364.4L415.2,366.7L415.7,376.5L416.2,373.7L416.7,369.0L417.2,374.0L417.7,375.2L418.2,383.1L418.7,374.6L419.2,382.2L419.7,384.1L420.2,388.1L420.7,387.8L421.2,384.5L421.7,382.4L422.2,384.4L422.7,385.8L423.2,387.4L423.7,387.0L424.2,386.3L424.7,390.2L425.2,389.8L425.7,389.3L426.2,389.7L426.7,389.9L427.2,389.8L427.7,395.3L428.2,391.6L428.7,391.4L429.2,394.3L429.7,391.9L430.2,392.9L430.7,391.3L431.2,392.2L431.7,390.5L432.2,393.5L432.7,395.6L433.2,393.5L433.7,393.7L434.2,394.8L434.7,394.8L435.2,392.5L435.7,392.8L436.2,393.4L436.7,395.3L437.2,392.7L437.7,393.5L438.2,393.9L438.7,394.3L439.2,392.7L439.7,394.1L440.2,395.8L440.7,393.9L441.2,396.7L441.7,394.9L442.2,395.4L442.7,393.5L443.2,395.1L443.7,393.6L444.2,392.1L444.7,395.6L445.2,393.9L445.7,393.9L446.2,393.1L446.7,395.7L447.2,393.2L447.7,395.8L448.2,396.0L448.7,396.2L449.2,393.2L449.7,392.4L450.2,395.8L450.7,393.7L451.2,396.3L451.7,395.7L452.2,395.4L452.7,395.4L453.2,394.2L453.7,395.4L454.2,395.4L454.7,395.9L455.2,397.1L455.7,395.2L456.2,396.2L456.7,397.1L457.2,395.2L457.7,395.2L458.2,395.3L458.7,395.0L459.2,394.7L459.7,396.4L460.2,397.0L460.7,396.4L461.2,395.7L461.7,394.8L462.2,396.3L462.7,395.6L463.2,396.0L463.7,395.8L464.2,396.8L464.7,396.6L465.2,396.2L465.7,395.6L466.2,396.0L466.7,396.8L467.2,396.3L467.7,396.1L468.2,397.3L468.7,396.2L469.2,396.2L469.7,396.7L470.2,396.2L470.7,396.6L471.2,396.6L471.7,396.4L472.2,396.5L472.7,396.2L473.2,397.3L473.7,397.3L474.2,396.8L474.7,396.1L475.2,396.6L475.7,396.1L476.2,396.9L476.7,396.6L477.2,397.0L477.7,396.8L478.2,396.9L478.7,396.8L479.2,397.3L479.7,396.4L480.2,397.3L480.7,395.5L481.2,397.2L481.7,397.1L482.2,397.1L482.7,396.9L483.2,396.7L483.7,397.3L484.2,397.3L484.7,397.3L485.2,397.0L485.7,397.3L486.2,396.5L486.7,397.3L487.2,397.0L487.7,396.3L488.2,396.7L488.7,397.1L489.2,396.5L489.7,397.2L490.2,396.8L490.7,397.0L491.2,397.1L491.7,396.7L492.2,397.1L492.7,397.3L493.2,396.8L493.7,396.9L494.2,396.8L494.7,397.2L495.2,397.3L495.7,396.8L496.2,396.9L496.7,397.3L497.2,397.0L497.7,397.3L498.2,397.0L498.7,396.8L499.2,396.6L499.7,395.8L500.2,396.4L500.7,397.1L501.2,397.3L501.7,396.5L502.2,396.5L502.7,396.6L503.2,396.9L503.7,396.7L504.2,397.3L504.7,397.3L505.2,396.8L505.7,396.9L506.2,396.7L506.7,397.2L507.2,397.3L507.7,396.6L508.2,396.8L508.7,396.6L509.2,397.1L509.7,397.1L510.2,396.7L510.7,396.9L511.2,397.3L511.7,397.3L512.2,396.7L512.7,397.0L513.2,396.9L513.7,397.1L514.2,396.6L514.7,397.2" fill="none" stroke="#000" stroke-width="1.4" stroke-linejoin="round"/>
<path d="M313.7,246.0V397.3H515.6" fill="none" stroke="#000" stroke-width="1.5"/>
<path d="M314.9,330V397.3" stroke="#000" stroke-width="1.3"/>
<path d="M310.9,397.3H313.7M311.9,392.3H313.7M311.9,387.2H313.7M311.9,382.2H313.7M311.9,377.2H313.7M310.9,372.2H313.7M311.9,367.1H313.7M311.9,362.1H313.7M311.9,357.1H313.7M311.9,352.1H313.7M310.9,347.0H313.7M311.9,342.0H313.7M311.9,337.0H313.7M311.9,332.0H313.7M311.9,326.9H313.7M310.9,321.9H313.7M311.9,316.9H313.7M311.9,311.8H313.7M311.9,306.8H313.7M311.9,301.8H313.7M310.9,296.8H313.7M311.9,291.7H313.7M311.9,286.7H313.7M311.9,281.7H313.7M311.9,276.7H313.7M310.9,271.6H313.7M311.9,266.6H313.7M311.9,261.6H313.7M311.9,256.6H313.7M311.9,251.5H313.7M310.9,246.5H313.7M313.7,397.3v2.6M328.9,397.3v1.8M337.8,397.3v1.8M344.1,397.3v1.8M349.0,397.3v1.8M353.0,397.3v1.8M356.4,397.3v1.8M359.3,397.3v1.8M361.9,397.3v1.8M364.2,397.3v2.6M379.4,397.3v1.8M388.3,397.3v1.8M394.6,397.3v1.8M399.5,397.3v1.8M403.5,397.3v1.8M406.8,397.3v1.8M409.8,397.3v1.8M412.3,397.3v1.8M414.6,397.3v2.6M429.8,397.3v1.8M438.7,397.3v1.8M445.0,397.3v1.8M449.9,397.3v1.8M453.9,397.3v1.8M457.3,397.3v1.8M460.2,397.3v1.8M462.8,397.3v1.8M465.1,397.3v2.6M480.3,397.3v1.8M489.2,397.3v1.8M495.5,397.3v1.8M500.4,397.3v1.8M504.4,397.3v1.8M507.8,397.3v1.8M510.7,397.3v1.8M513.3,397.3v1.8M515.6,397.3v2.6" stroke="#000" stroke-width="0.8" fill="none"/>
<text transform="translate(308.7,397.3) rotate(-90)" text-anchor="middle" font-size="5.6" fill="#111">0</text>
<text transform="translate(308.7,372.2) rotate(-90)" text-anchor="middle" font-size="5.6" fill="#111">10</text>
<text transform="translate(308.7,347.0) rotate(-90)" text-anchor="middle" font-size="5.6" fill="#111">20</text>
<text transform="translate(308.7,321.9) rotate(-90)" text-anchor="middle" font-size="5.6" fill="#111">30</text>
<text transform="translate(308.7,296.8) rotate(-90)" text-anchor="middle" font-size="5.6" fill="#111">40</text>
<text transform="translate(308.7,271.6) rotate(-90)" text-anchor="middle" font-size="5.6" fill="#111">50</text>
<text transform="translate(308.7,246.5) rotate(-90)" text-anchor="middle" font-size="5.6" fill="#111">60</text>
<text transform="translate(303.0,322.9) rotate(-90)" text-anchor="middle" font-size="5.4" fill="#111">Counts</text>
<text transform="translate(314.7,405.5) scale(1.25,1)" text-anchor="middle" font-size="5.0" fill="#111">10<tspan dy="-3.0" font-size="5.0">0</tspan></text>
<text transform="translate(365.2,405.5) scale(1.25,1)" text-anchor="middle" font-size="5.0" fill="#111">10<tspan dy="-3.0" font-size="5.0">1</tspan></text>
<text transform="translate(415.6,405.5) scale(1.25,1)" text-anchor="middle" font-size="5.0" fill="#111">10<tspan dy="-3.0" font-size="5.0">2</tspan></text>
<text transform="translate(466.1,405.5) scale(1.25,1)" text-anchor="middle" font-size="5.0" fill="#111">10<tspan dy="-3.0" font-size="5.0">3</tspan></text>
<text transform="translate(516.6,405.5) scale(1.25,1)" text-anchor="middle" font-size="5.0" fill="#111">10<tspan dy="-3.0" font-size="5.0">4</tspan></text>
<text transform="translate(414.6,410.9) scale(1.3,1)" text-anchor="middle" font-size="5.2" fill="#111">FL1-H</text>
<text x="506.7" y="268" font-size="19.45" text-anchor="end">Phosphatidyl</text>
<text x="505.9" y="289.3" font-size="19.5" text-anchor="end">serine</text>
<text x="-0.5" y="502.5" font-size="24" font-weight="bold">B</text>
<text transform="translate(15.9,620.4) rotate(-90)" text-anchor="middle" font-size="21.2">PMN Migration</text>
<text transform="translate(41.5,621) rotate(-90)" text-anchor="middle" font-size="21.4">(Gr1+ cells x10<tspan dy="-8" font-size="14.4">6</tspan><tspan dy="8"> per mouse)</tspan></text>
<path d="M71.2,493.85H86V761.5H71.2M71.2,583.6H86M71.2,671.4H86" fill="none" stroke="#000" stroke-width="2"/>
<text x="62.8" y="501.2" font-size="16" font-weight="bold" text-anchor="middle">3</text>
<text x="62.8" y="588.8" font-size="16" font-weight="bold" text-anchor="middle">2</text>
<text x="62.8" y="676.2" font-size="16" font-weight="bold" text-anchor="middle">1</text>
<text x="62.8" y="768.4" font-size="16" font-weight="bold" text-anchor="middle">0</text>
<rect x="107.4" y="550.3" width="54.5" height="210.7" fill="#000"/>
<path d="M120.2,529.6H149.8M135,529.6V551" stroke="#000" stroke-width="2.5"/>
<rect x="183.40" y="646.80" width="52.20" height="113.40" fill="#fff" stroke="#000" stroke-width="1.6"/>
<path d="M194.9,638.6H224.1M209.5,638.6V647.0" stroke="#000" stroke-width="2.4"/>
<rect x="266.40" y="697.00" width="52.10" height="63.20" fill="#fff" stroke="#000" stroke-width="1.6"/>
<path d="M277.9,690.3H307.1M292.5,690.3V697.2" stroke="#000" stroke-width="2.4"/>
<rect x="352.30" y="577.80" width="51.30" height="182.40" fill="#fff" stroke="#000" stroke-width="1.6"/>
<path d="M363.3,560.8H392.6M377.9,560.8V578.0" stroke="#000" stroke-width="2.4"/>
<rect x="431.70" y="592.20" width="52.10" height="168.00" fill="#fff" stroke="#000" stroke-width="1.6"/>
<path d="M443.1,579.4H472.4M457.8,579.4V592.4" stroke="#000" stroke-width="2.4"/>
<text x="209.4" y="628.6" font-size="36.5" font-weight="bold" text-anchor="middle">*</text>
<text x="292.5" y="672.1" font-size="36.5" font-weight="bold" text-anchor="middle">*</text>
<text x="96.5" y="812.8" font-size="21.8">Vehicle</text>
<text x="185.6" y="800" font-size="16">40</text>
<text x="209.6" y="800" font-size="16.6">x10</text>
<text x="237.5" y="795.5" font-size="10.6">3</text>
<text x="268.6" y="800" font-size="16">70</text>
<text x="291.4" y="800" font-size="16.6">x10</text>
<text x="319.3" y="795.5" font-size="10.6">3</text>
<text x="353.9" y="800" font-size="16">40</text>
<text x="377.9" y="800" font-size="16.6">x10</text>
<text x="405.8" y="795.5" font-size="10.6">3</text>
<text x="434.6" y="800" font-size="16">70</text>
<text x="457.4" y="800" font-size="16.6">x10</text>
<text x="485.3" y="795.5" font-size="10.6">3</text>
<path d="M201.2,812.1V826.1M201.2,818.8H304.1M304.1,812.1V825.2" fill="none" stroke="#000" stroke-width="2.9" stroke-linecap="round"/>
<path d="M369.8,812.1V826.1M369.8,818.8H472.8M472.8,812.1V825.2" fill="none" stroke="#000" stroke-width="2.9" stroke-linecap="round"/>
<text x="196.5" y="848.3" font-size="19">+</text>
<text x="220.2" y="848.3" font-size="19.4">Wild Type</text>
<text x="190.3" y="870.8" font-size="19.25">Microparticles</text>
<text x="374" y="848.4" font-size="19">+</text>
<text x="396.3" y="848.4" font-size="19.4">AnxA1<tspan dy="-7" font-size="12">-/-</tspan></text>
<text x="359" y="870.2" font-size="19.1">Microparticles</text>
<path d="M109.4,760.5V552.4H160.2" fill="none" stroke="#3a3a3a" stroke-width="0.9"/>
</svg></body></html>
